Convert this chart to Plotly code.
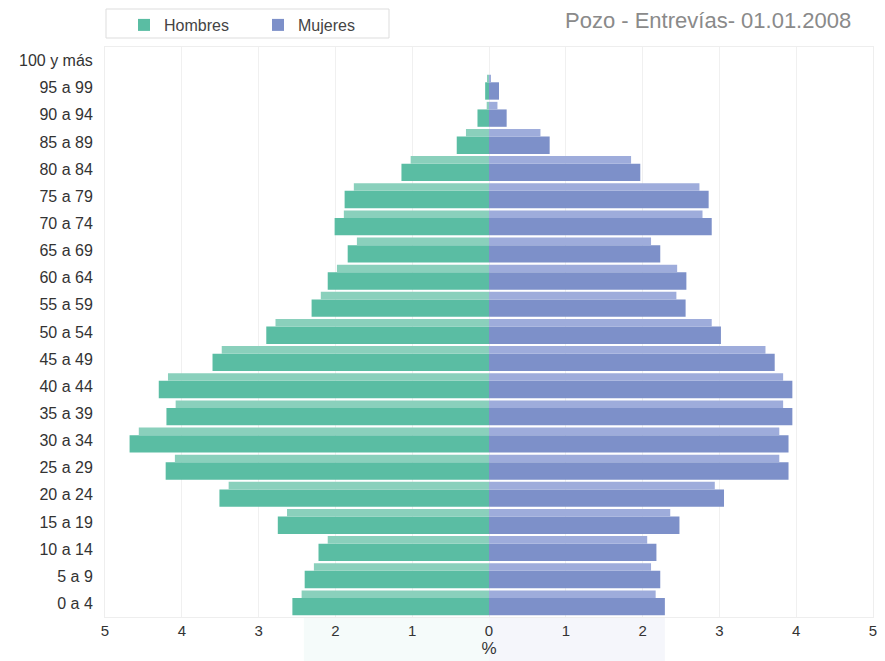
import plotly.graph_objects as go

categories = ["0 a 4", "5 a 9", "10 a 14", "15 a 19", "20 a 24", "25 a 29", "30 a 34",
              "35 a 39", "40 a 44", "45 a 49", "50 a 54", "55 a 59", "60 a 64", "65 a 69",
              "70 a 74", "75 a 79", "80 a 84", "85 a 89", "90 a 94", "95 a 99", "100 y más"]
hombres = [2.56, 2.40, 2.22, 2.75, 3.51, 4.21, 4.68, 4.20, 4.30, 3.60, 2.90, 2.31, 2.10,
           1.84, 2.01, 1.88, 1.14, 0.42, 0.15, 0.05, 0.0]
mujeres = [2.29, 2.23, 2.18, 2.48, 3.06, 3.90, 3.90, 3.95, 3.95, 3.72, 3.02, 2.56, 2.57,
           2.23, 2.90, 2.86, 1.97, 0.79, 0.23, 0.13, 0.0]
tick_vals = [-5, -4, -3, -2, -1, 0, 1, 2, 3, 4, 5]
tick_text = ["5", "4", "3", "2", "1", "0", "1", "2", "3", "4", "5"]

G_FRONT = "#5abda3"
G_TOP = "#8ad0bc"
B_FRONT = "#7d90c9"
B_TOP = "#9eacdb"
INSET = 0.12

W, H = 877, 653
ML, MR, MT, MB = 97, 12, 39, 44
PW, PH = W - ML - MR, H - MT - MB


def px_x(x):
    return (x - ML) / PW


def px_y(y):
    return 1 - (y - MT) / PH


fig = go.Figure()
fig.add_trace(go.Bar(y=categories, x=[-v for v in hombres], orientation="h", name="Hombres",
                     marker=dict(color=G_FRONT, line=dict(width=0)), width=0.64, offset=-0.44,
                     showlegend=True))
fig.add_trace(go.Bar(y=categories, x=mujeres, orientation="h", name="Mujeres",
                     marker=dict(color=B_FRONT, line=dict(width=0)), width=0.64, offset=-0.44,
                     showlegend=True))
fig.add_trace(go.Bar(y=categories, x=[-max(v - INSET, 0.02) if v > 0 else 0 for v in hombres],
                     orientation="h", marker=dict(color=G_TOP, line=dict(width=0)),
                     width=0.28, offset=0.20, showlegend=False, hoverinfo="skip"))
fig.add_trace(go.Bar(y=categories, x=[max(v - INSET, 0.02) if v > 0 else 0 for v in mujeres],
                     orientation="h", marker=dict(color=B_TOP, line=dict(width=0)),
                     width=0.28, offset=0.20, showlegend=False, hoverinfo="skip"))

shapes = [
    # legend frame
    dict(type="rect", xref="paper", yref="paper", x0=px_x(98), x1=px_x(381),
         y0=px_y(1), y1=px_y(30), line=dict(color="#dddddd", width=1), fillcolor="white",
         layer="below"),
    # faint reflection of lowest bar under the axis
    dict(type="rect", xref="x", yref="paper", x0=-hombres[0] + 0.15, x1=0, y0=0, y1=-0.078,
         line=dict(width=0), fillcolor="rgba(92,187,163,0.06)", layer="below"),
    dict(type="rect", xref="x", yref="paper", x0=0, x1=mujeres[0], y0=0, y1=-0.078,
         line=dict(width=0), fillcolor="rgba(125,144,201,0.08)", layer="below"),
]

fig.update_layout(
    width=W, height=H,
    margin=dict(l=ML, r=MR, t=MT, b=MB, autoexpand=False),
    barmode="overlay",
    paper_bgcolor="white", plot_bgcolor="white",
    font=dict(family="Liberation Sans, Arial, sans-serif", size=16, color="#333333"),
    legend=dict(orientation="h", xref="container", yref="container",
                x=116 / W, xanchor="left", y=1.0, yanchor="top",
                borderwidth=0, font=dict(size=16, color="#444444"),
                entrywidth=89, itemsizing="constant", bgcolor="rgba(0,0,0,0)"),
    xaxis=dict(range=[-5, 5], tickvals=tick_vals, ticktext=tick_text, showgrid=True,
               gridcolor="#f0f0f0", zeroline=False, showline=True, linecolor="#eeeeee",
               mirror=True, ticks="", automargin=False, tickfont=dict(size=15),
               title=dict(text="%", standoff=0, font=dict(size=17))),
    yaxis=dict(type="category", categoryorder="array", categoryarray=categories,
               range=[-0.5, 20.5], showgrid=False, zeroline=False, showline=True,
               linecolor="#eeeeee", mirror=True, ticks="", ticklabelstandoff=8,
               automargin=False, tickfont=dict(size=16)),
    shapes=shapes,
    annotations=[dict(text="Pozo - Entrevías- 01.01.2008", xref="paper", yref="paper",
                      x=px_x(845), y=px_y(12), xanchor="right", yanchor="middle",
                      showarrow=False, font=dict(size=22, color="#8a8a8a"))],
)

fig.write_html("out.html")
